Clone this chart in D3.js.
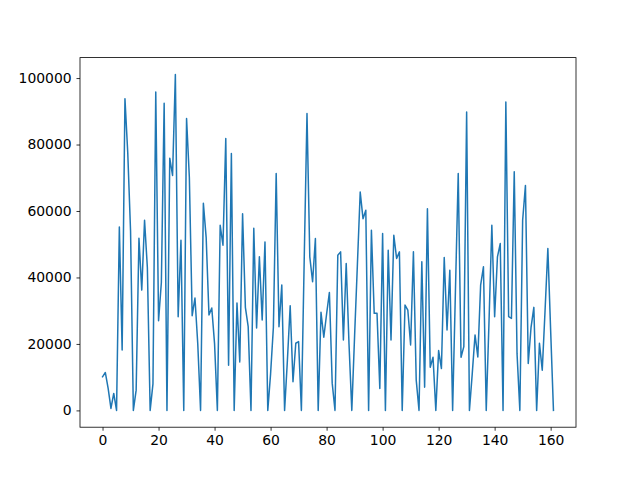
<!DOCTYPE html>
<html>
<head>
<meta charset="utf-8">
<script src="https://cdn.jsdelivr.net/npm/d3@7"></script>
<style>
    body { margin: 0; background: #fff; }
    .tick text { font-family: "DejaVu Sans", sans-serif; font-size: 13.9px; fill: #000; }
    .tick line { stroke: #000; stroke-width: 0.8; }
</style>
</head>
<body>
<div id="lineGraphContainer"></div>
<script>
// values, index 0..161
var values = [
    10100, 11400, 6600, 600, 5100, 0, 55200, 18200, 93800, 77500,
    54000, 0, 6100, 51800, 36200, 57200, 43000, 0, 8000, 95800,
    27000, 38500, 92400, 0, 75900, 70700, 101100, 28200, 51200, 0,
    87800, 70000, 28500, 33800, 20000, 0, 62300, 52000, 28700, 30800,
    20000, 0, 55700, 49700, 81800, 13600, 77300, 0, 32300, 14600,
    59200, 31000, 25200, 0, 54800, 24800, 46200, 27200, 50700, 0,
    11000, 25000, 71300, 25200, 37700, 0, 15000, 31500, 8600, 20200,
    20700, 0, 45000, 89300, 46200, 38700, 51700, 0, 29500, 22000,
    29000, 35500, 8200, 0, 46700, 47700, 21200, 44200, 20000, 0,
    22500, 44000, 65700, 57700, 60200, 0, 54200, 29200, 29200, 6600,
    53200, 0, 48200, 21200, 52700, 45700, 47700, 0, 31700, 30200,
    19700, 47700, 9100, 0, 44700, 7000, 60700, 13000, 16000, 0,
    18000, 12600, 46000, 24200, 42200, 0, 36000, 71300, 16000, 19200,
    89800, 0, 11000, 22700, 16100, 37700, 43200, 0, 27000, 55700,
    28200, 46200, 50200, 0, 92800, 28200, 27700, 71800, 17000, 0,
    57200, 67700, 14100, 25000, 31000, 0, 20200, 12100, 30000, 48700,
    24000, 0
];
var xTicks = [0, 20, 40, 60, 80, 100, 120, 140, 160];
var yTicks = [0, 20000, 40000, 60000, 80000, 100000];

// matplotlib default axes box in a 640x480 figure
var margin = { top: 57.6, right: 64, bottom: 52.8, left: 80 },
    width = 640 - margin.left - margin.right,
    height = 480 - margin.top - margin.bottom;

var svg = d3.select("#lineGraphContainer")
    .append("svg")
    .attr("width", 640)
    .attr("height", 480)
    .append("g")
    .attr("transform", "translate(" + margin.left + "," + margin.top + ")");

var n = values.length - 1;
var ymax = d3.max(values);

// 5% padding each side like matplotlib autoscale
var x = d3.scaleLinear()
    .domain([-0.05 * n, n * 1.05])
    .range([0, width]);

var y = d3.scaleLinear()
    .domain([-0.05 * ymax, ymax * 1.05])
    .range([height, 0]);

svg.append("g")
    .attr("class", "xaxis")
    .attr("transform", "translate(0," + height + ")")
    .call(d3.axisBottom(x).tickValues(xTicks).tickSize(3.5).tickPadding(4.9).tickFormat(d3.format("d")))
    .select(".domain").remove();

svg.append("g")
    .attr("class", "yaxis")
    .call(d3.axisLeft(y).tickValues(yTicks).tickSize(3.5).tickPadding(4.9).tickFormat(d3.format("d")))
    .select(".domain").remove();

// the line
svg.append("path")
    .datum(values)
    .attr("fill", "none")
    .attr("stroke", "#1f77b4")
    .attr("stroke-width", 1.5)
    .attr("stroke-linejoin", "round")
    .attr("stroke-linecap", "square")
    .attr("d", d3.line()
        .x(function (d, i) { return x(i); })
        .y(function (d) { return y(d); }));

// frame
svg.append("rect")
    .attr("width", width)
    .attr("height", height)
    .attr("fill", "none")
    .attr("stroke", "#000")
    .attr("stroke-width", 0.8);
</script>
</body>
</html>
